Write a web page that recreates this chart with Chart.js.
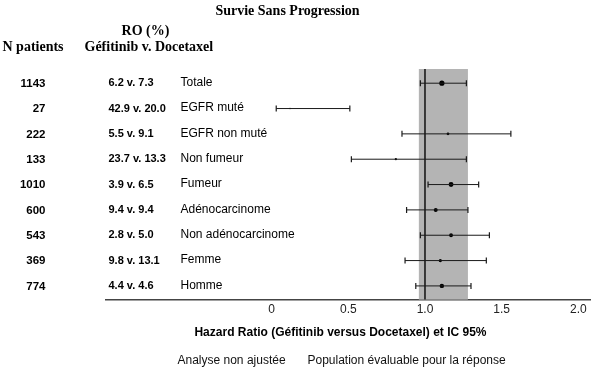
<!DOCTYPE html>
<html>
<head>
<meta charset="utf-8">
<script src="https://cdn.jsdelivr.net/npm/chart.js@4"></script>
<style>
  body { margin: 0; background: #fff; }
</style>
</head>
<body>
<canvas id="forest_graf" width="605" height="370"></canvas>
<script>
// données
const categories = ["Totale", "EGFR muté", "EGFR non muté", "Non fumeur", "Fumeur",
                    "Adénocarcinome", "Non adénocarcinome", "Femme", "Homme"];
const nPatients = [1143, 27, 222, 133, 1010, 600, 543, 369, 774];
const roGefitinib = [6.2, 42.9, 5.5, 23.7, 3.9, 9.4, 2.8, 9.8, 4.4];
const roDocetaxel = [7.3, 20.0, 9.1, 13.3, 6.5, 9.4, 5.0, 13.1, 4.6];
const hr     = [1.11, 0.12, 1.15, 0.81, 1.17, 1.07, 1.17, 1.10, 1.11];
const icBas  = [0.97, 0.03, 0.85, 0.52, 1.02, 0.88, 0.97, 0.87, 0.94];
const icHaut = [1.27, 0.51, 1.56, 1.27, 1.35, 1.28, 1.42, 1.40, 1.30];
const bandeIC = [0.96, 1.28];   // zone grise (IC de la population totale)
const ligneRef = 1.0;
const xTicks = [0, 0.5, 1.0, 1.5, 2.0];
const xTickLabels = ["0", "0.5", "1.0", "1.5", "2.0"];

const SANS = "'Liberation Sans', Arial, sans-serif";
const SERIF = "'Liberation Serif', 'Times New Roman', serif";

// un dataset par intervalle de confiance (trait + petites barres verticales)
const datasets = [];
categories.forEach((c, i) => {
    datasets.push({
        label: "IC " + c,
        data: [{x: icBas[i], y: i}, {x: icHaut[i], y: i}],
        showLine: true,
        borderColor: "#1a1a1a",
        borderWidth: 1,
        pointStyle: "line",
        pointRotation: 90,
        pointRadius: 3,
        pointBorderWidth: 1.2,
        pointBorderColor: "#1a1a1a"
    });
});
// points HR, taille selon le nombre de patients
datasets.push({
    label: "HR",
    data: hr.map((v, i) => ({x: v, y: i})),
    backgroundColor: "#000",
    borderColor: "#000",
    borderWidth: 0,
    pointRadius: nPatients.map(n => 0.4 + 0.065 * Math.sqrt(n))
});

// zone grise + ligne verticale à 1.0
const fond = {
    id: "fond",
    beforeDatasetsDraw(chart) {
        const {ctx, chartArea, scales: {x}} = chart;
        ctx.save();
        ctx.fillStyle = "#b4b4b4";
        const x1 = x.getPixelForValue(bandeIC[0]);
        const x2 = x.getPixelForValue(bandeIC[1]);
        ctx.fillRect(x1, chartArea.top, x2 - x1, chartArea.bottom - chartArea.top);
        ctx.strokeStyle = "#1a1a1a";
        ctx.lineWidth = 1.6;
        const xr = x.getPixelForValue(ligneRef);
        ctx.beginPath();
        ctx.moveTo(xr, chartArea.top);
        ctx.lineTo(xr, chartArea.bottom);
        ctx.stroke();
        ctx.restore();
    }
};

// textes : titres, colonnes à gauche, légende en bas
const textes = {
    id: "textes",
    afterDraw(chart) {
        const {ctx, scales: {y}} = chart;
        ctx.save();
        ctx.fillStyle = "#000";
        ctx.textBaseline = "middle";

        ctx.font = "bold 14px " + SERIF;
        ctx.textAlign = "center";
        ctx.fillText("Survie Sans Progression", 287.5, 11);
        ctx.fillText("RO (%)", 145.5, 31);
        ctx.textAlign = "left";
        ctx.fillText("N patients", 2.5, 47);
        ctx.fillText("Géfitinib v. Docetaxel", 84.5, 47);

        categories.forEach((c, i) => {
            const py = y.getPixelForValue(i);
            ctx.font = "bold 11.5px " + SANS;
            ctx.textAlign = "right";
            ctx.fillText(String(nPatients[i]), 45.5, py + 0.5);
            ctx.font = "bold 11px " + SANS;
            ctx.textAlign = "left";
            ctx.fillText(roGefitinib[i].toFixed(1) + " v. " + roDocetaxel[i].toFixed(1), 108.5, py);
            ctx.font = "12px " + SANS;
            ctx.fillText(c, 180.5, py - 0.5);
        });

        ctx.font = "bold 12px " + SANS;
        ctx.textAlign = "center";
        ctx.fillText("Hazard Ratio (Géfitinib versus Docetaxel) et IC 95%", 340.5, 333);

        ctx.font = "12px " + SANS;
        ctx.textAlign = "left";
        ctx.fillStyle = "#111";
        ctx.fillText("Analyse non ajustée", 177.5, 361);
        ctx.fillText("Population évaluable pour la réponse", 307.5, 361);
        ctx.restore();
    }
};

const ctx = document.getElementById("forest_graf").getContext("2d");
new Chart(ctx, {
    type: "scatter",
    data: { datasets: datasets },
    plugins: [fond, textes],
    options: {
        responsive: false,
        animation: false,
        layout: { padding: { left: 106, right: 15, top: 69, bottom: 50 } },
        plugins: {
            legend: { display: false },
            tooltip: { enabled: false }
        },
        scales: {
            x: {
                type: "linear",
                min: -1.08,
                max: 2.076,
                afterBuildTicks: (axis) => { axis.ticks = xTicks.map(v => ({value: v})); },
                grid: { display: false, drawTicks: false },
                border: { display: true, color: "#444", width: 1.5 },
                ticks: {
                    padding: 3,
                    color: "#222",
                    font: { size: 12, family: SANS },
                    callback: (v) => xTickLabels[xTicks.indexOf(v)]
                }
            },
            y: {
                type: "linear",
                display: false,
                reverse: true,
                min: -0.56,
                max: 8.54
            }
        }
    }
});
</script>
</body>
</html>
